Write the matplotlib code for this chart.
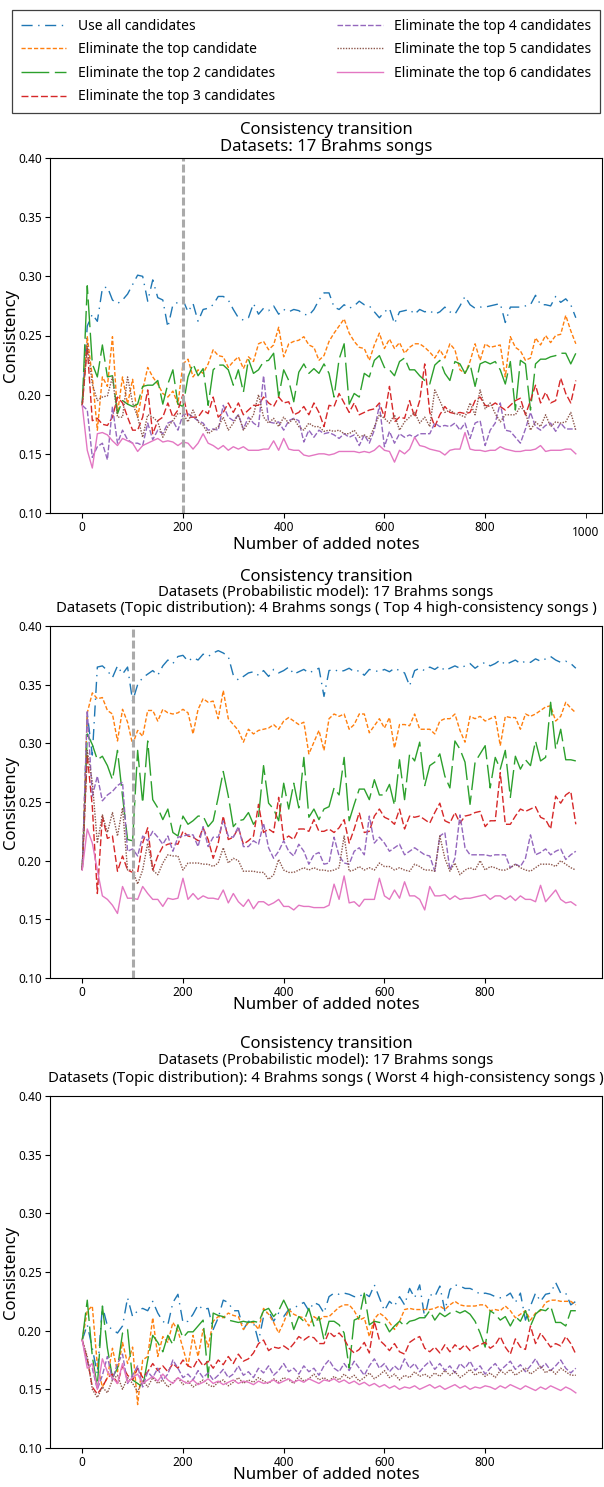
import numpy as np
import matplotlib.pyplot as plt

plt.rcParams['font.family'] = ['Noto Sans', 'DejaVu Sans']

# number of added notes (every 10 notes)
x = np.arange(0, 981, 10)

labels = ['Use all candidates', 'Eliminate the top candidate',
          'Eliminate the top 2 candidates', 'Eliminate the top 3 candidates',
          'Eliminate the top 4 candidates', 'Eliminate the top 5 candidates',
          'Eliminate the top 6 candidates']
colors = ['#1f77b4', '#ff7f0e', '#2ca02c', '#d62728', '#9467bd', '#8c564b', '#e377c2']
styles = [(0, (8, 4, 1, 4)), (0, (3, 1.5)), (0, (20, 4)), (0, (5, 2)),
          (0, (4, 1.5)), (0, (1, 1)), '-']

# ---- panel 1: 17 Brahms songs ----
p1_all = [0.193, 0.258, 0.268, 0.262, 0.290, 0.291, 0.280, 0.277, 0.280, 0.285,
          0.293, 0.301, 0.300, 0.279, 0.297, 0.282, 0.280, 0.257, 0.276, 0.278,
          0.280, 0.270, 0.277, 0.262, 0.272, 0.273, 0.276, 0.283, 0.283, 0.280,
          0.272, 0.265, 0.263, 0.265, 0.277, 0.268, 0.273, 0.271, 0.275, 0.268,
          0.272, 0.270, 0.272, 0.271, 0.268, 0.267, 0.272, 0.280, 0.286, 0.286,
          0.274, 0.272, 0.276, 0.273, 0.275, 0.279, 0.276, 0.275, 0.270, 0.265,
          0.270, 0.273, 0.260, 0.270, 0.271, 0.272, 0.268, 0.272, 0.270, 0.271,
          0.268, 0.270, 0.274, 0.270, 0.268, 0.275, 0.283, 0.276, 0.273, 0.274,
          0.274, 0.275, 0.276, 0.277, 0.261, 0.274, 0.274, 0.274, 0.275, 0.276,
          0.284, 0.276, 0.276, 0.275, 0.283, 0.278, 0.281, 0.276, 0.265]
p1_top1 = [0.191, 0.249, 0.215, 0.170, 0.215, 0.207, 0.249, 0.184, 0.215, 0.192,
           0.213, 0.181, 0.204, 0.223, 0.215, 0.209, 0.201, 0.198, 0.203, 0.192,
           0.226, 0.230, 0.215, 0.221, 0.218, 0.226, 0.238, 0.233, 0.232, 0.223,
           0.228, 0.232, 0.222, 0.232, 0.228, 0.243, 0.245, 0.238, 0.242, 0.257,
           0.232, 0.243, 0.245, 0.246, 0.249, 0.242, 0.240, 0.229, 0.233, 0.245,
           0.252, 0.258, 0.264, 0.252, 0.245, 0.240, 0.239, 0.229, 0.242, 0.252,
           0.239, 0.247, 0.239, 0.244, 0.235, 0.240, 0.243, 0.243, 0.240, 0.236,
           0.231, 0.238, 0.231, 0.243, 0.238, 0.221, 0.218, 0.228, 0.243, 0.229,
           0.243, 0.240, 0.241, 0.242, 0.215, 0.249, 0.240, 0.237, 0.229, 0.231,
           0.248, 0.242, 0.250, 0.244, 0.250, 0.251, 0.267, 0.254, 0.243]
p1_top2 = [0.191, 0.292, 0.226, 0.215, 0.242, 0.215, 0.216, 0.184, 0.195, 0.192,
           0.190, 0.192, 0.207, 0.208, 0.208, 0.212, 0.192, 0.209, 0.221, 0.192,
           0.190, 0.215, 0.226, 0.216, 0.222, 0.191, 0.221, 0.225, 0.225, 0.221,
           0.208, 0.221, 0.202, 0.230, 0.218, 0.221, 0.228, 0.229, 0.235, 0.198,
           0.221, 0.212, 0.194, 0.219, 0.226, 0.218, 0.222, 0.218, 0.226, 0.218,
           0.198, 0.230, 0.243, 0.192, 0.201, 0.198, 0.218, 0.215, 0.229, 0.233,
           0.223, 0.221, 0.216, 0.228, 0.231, 0.221, 0.221, 0.216, 0.212, 0.209,
           0.225, 0.229, 0.218, 0.212, 0.228, 0.226, 0.218, 0.226, 0.207, 0.226,
           0.228, 0.226, 0.228, 0.221, 0.209, 0.228, 0.187, 0.229, 0.226, 0.187,
           0.226, 0.230, 0.230, 0.232, 0.233, 0.235, 0.235, 0.226, 0.235]
p1_top3 = [0.191, 0.240, 0.178, 0.180, 0.175, 0.174, 0.181, 0.198, 0.193, 0.181,
           0.170, 0.170, 0.181, 0.204, 0.167, 0.178, 0.181, 0.193, 0.181, 0.187,
           0.200, 0.181, 0.181, 0.181, 0.187, 0.184, 0.198, 0.181, 0.185, 0.193,
           0.185, 0.193, 0.183, 0.187, 0.191, 0.191, 0.198, 0.193, 0.190, 0.198,
           0.193, 0.194, 0.183, 0.185, 0.190, 0.183, 0.193, 0.185, 0.173, 0.191,
           0.190, 0.201, 0.193, 0.185, 0.193, 0.183, 0.185, 0.187, 0.188, 0.193,
           0.181, 0.207, 0.177, 0.181, 0.180, 0.195, 0.181, 0.195, 0.226, 0.185,
           0.173, 0.183, 0.190, 0.185, 0.184, 0.185, 0.184, 0.185, 0.195, 0.198,
           0.191, 0.190, 0.193, 0.190, 0.187, 0.191, 0.195, 0.197, 0.183, 0.195,
           0.208, 0.193, 0.202, 0.193, 0.195, 0.214, 0.201, 0.193, 0.212]
p1_top4 = [0.191, 0.187, 0.147, 0.156, 0.159, 0.145, 0.190, 0.159, 0.170, 0.162,
           0.159, 0.159, 0.157, 0.176, 0.162, 0.170, 0.167, 0.176, 0.178, 0.170,
           0.183, 0.184, 0.181, 0.178, 0.176, 0.170, 0.171, 0.170, 0.191, 0.181,
           0.178, 0.183, 0.171, 0.181, 0.176, 0.173, 0.216, 0.177, 0.176, 0.177,
           0.170, 0.178, 0.180, 0.178, 0.160, 0.170, 0.164, 0.170, 0.167, 0.168,
           0.166, 0.163, 0.167, 0.164, 0.166, 0.157, 0.166, 0.159, 0.170, 0.191,
           0.156, 0.169, 0.159, 0.167, 0.164, 0.166, 0.164, 0.167, 0.167, 0.167,
           0.176, 0.173, 0.174, 0.173, 0.176, 0.170, 0.176, 0.163, 0.176, 0.178,
           0.157, 0.170, 0.176, 0.193, 0.170, 0.169, 0.164, 0.159, 0.171, 0.185,
           0.173, 0.170, 0.174, 0.176, 0.169, 0.176, 0.171, 0.171, 0.171]
p1_top5 = [0.191, 0.243, 0.209, 0.195, 0.198, 0.199, 0.215, 0.181, 0.181, 0.215,
           0.193, 0.181, 0.164, 0.183, 0.181, 0.177, 0.164, 0.173, 0.178, 0.184,
           0.184, 0.177, 0.187, 0.177, 0.174, 0.167, 0.170, 0.173, 0.181, 0.170,
           0.176, 0.183, 0.170, 0.176, 0.183, 0.200, 0.181, 0.176, 0.180, 0.173,
           0.181, 0.176, 0.180, 0.173, 0.170, 0.176, 0.173, 0.173, 0.169, 0.170,
           0.169, 0.170, 0.167, 0.167, 0.170, 0.164, 0.166, 0.163, 0.173, 0.183,
           0.180, 0.176, 0.183, 0.170, 0.177, 0.181, 0.185, 0.176, 0.181, 0.173,
           0.204, 0.195, 0.185, 0.187, 0.184, 0.183, 0.181, 0.193, 0.183, 0.204,
           0.188, 0.193, 0.184, 0.177, 0.183, 0.183, 0.183, 0.190, 0.185, 0.170,
           0.177, 0.173, 0.183, 0.173, 0.177, 0.176, 0.177, 0.185, 0.170]
p1_top6 = [0.191, 0.153, 0.138, 0.167, 0.168, 0.166, 0.161, 0.157, 0.163, 0.161,
           0.159, 0.152, 0.157, 0.159, 0.161, 0.163, 0.160, 0.161, 0.160, 0.157,
           0.160, 0.159, 0.154, 0.159, 0.167, 0.159, 0.157, 0.154, 0.157, 0.153,
           0.156, 0.154, 0.156, 0.153, 0.153, 0.153, 0.154, 0.154, 0.161, 0.153,
           0.163, 0.154, 0.153, 0.153, 0.149, 0.148, 0.149, 0.150, 0.150, 0.149,
           0.150, 0.152, 0.152, 0.152, 0.152, 0.151, 0.152, 0.151, 0.153, 0.157,
           0.153, 0.152, 0.143, 0.153, 0.150, 0.154, 0.164, 0.157, 0.156, 0.154,
           0.153, 0.152, 0.149, 0.153, 0.154, 0.154, 0.168, 0.154, 0.153, 0.153,
           0.152, 0.153, 0.153, 0.156, 0.154, 0.153, 0.152, 0.152, 0.153, 0.153,
           0.154, 0.157, 0.152, 0.153, 0.153, 0.153, 0.154, 0.154, 0.150]

# ---- panel 2: topic distribution from top 4 high-consistency songs ----
p2_all = [0.192, 0.325, 0.290, 0.365, 0.366, 0.362, 0.356, 0.366, 0.359, 0.365,
          0.336, 0.350, 0.356, 0.359, 0.362, 0.358, 0.366, 0.371, 0.368, 0.374,
          0.375, 0.370, 0.373, 0.371, 0.376, 0.374, 0.377, 0.379, 0.377, 0.374,
          0.358, 0.354, 0.357, 0.360, 0.361, 0.358, 0.362, 0.357, 0.363, 0.360,
          0.362, 0.365, 0.359, 0.361, 0.363, 0.360, 0.362, 0.364, 0.340, 0.362,
          0.363, 0.361, 0.362, 0.364, 0.361, 0.362, 0.358, 0.363, 0.362, 0.361,
          0.363, 0.361, 0.364, 0.362, 0.360, 0.349, 0.362, 0.364, 0.362, 0.365,
          0.363, 0.366, 0.362, 0.364, 0.366, 0.364, 0.366, 0.368, 0.364, 0.367,
          0.369, 0.366, 0.368, 0.371, 0.367, 0.369, 0.371, 0.368, 0.370, 0.369,
          0.372, 0.370, 0.372, 0.374, 0.371, 0.369, 0.370, 0.368, 0.364]
p2_top1 = [0.192, 0.326, 0.343, 0.338, 0.339, 0.328, 0.325, 0.302, 0.329, 0.318,
           0.299, 0.311, 0.306, 0.328, 0.328, 0.319, 0.329, 0.326, 0.325, 0.326,
           0.329, 0.326, 0.308, 0.329, 0.338, 0.335, 0.336, 0.321, 0.345, 0.321,
           0.316, 0.311, 0.301, 0.312, 0.308, 0.311, 0.312, 0.313, 0.316, 0.312,
           0.319, 0.322, 0.319, 0.316, 0.318, 0.291, 0.301, 0.311, 0.294, 0.321,
           0.325, 0.323, 0.325, 0.312, 0.316, 0.325, 0.325, 0.309, 0.315, 0.321,
           0.313, 0.322, 0.296, 0.316, 0.316, 0.315, 0.325, 0.312, 0.312, 0.312,
           0.308, 0.319, 0.321, 0.321, 0.325, 0.311, 0.301, 0.323, 0.321, 0.323,
           0.319, 0.321, 0.323, 0.298, 0.323, 0.322, 0.322, 0.312, 0.325, 0.323,
           0.325, 0.328, 0.331, 0.332, 0.319, 0.323, 0.335, 0.330, 0.326]
p2_top2 = [0.192, 0.308, 0.299, 0.286, 0.289, 0.281, 0.269, 0.294, 0.255, 0.218,
           0.217, 0.294, 0.249, 0.302, 0.252, 0.245, 0.235, 0.244, 0.224, 0.221,
           0.238, 0.231, 0.234, 0.238, 0.238, 0.229, 0.234, 0.254, 0.276, 0.255,
           0.229, 0.234, 0.235, 0.241, 0.231, 0.237, 0.281, 0.249, 0.244, 0.234,
           0.266, 0.244, 0.266, 0.245, 0.288, 0.237, 0.244, 0.235, 0.244, 0.246,
           0.262, 0.256, 0.288, 0.234, 0.248, 0.261, 0.261, 0.252, 0.269, 0.256,
           0.256, 0.265, 0.247, 0.286, 0.252, 0.291, 0.285, 0.301, 0.264, 0.281,
           0.284, 0.291, 0.272, 0.262, 0.302, 0.295, 0.284, 0.248, 0.284, 0.291,
           0.298, 0.262, 0.288, 0.278, 0.294, 0.254, 0.289, 0.278, 0.286, 0.281,
           0.302, 0.285, 0.288, 0.335, 0.295, 0.312, 0.286, 0.286, 0.285]
p2_top3 = [0.192, 0.290, 0.246, 0.172, 0.238, 0.219, 0.221, 0.191, 0.204, 0.192,
           0.190, 0.190, 0.215, 0.228, 0.192, 0.204, 0.212, 0.214, 0.215, 0.214,
           0.225, 0.221, 0.220, 0.217, 0.228, 0.218, 0.202, 0.215, 0.238, 0.218,
           0.220, 0.228, 0.214, 0.217, 0.221, 0.248, 0.224, 0.227, 0.224, 0.254,
           0.218, 0.221, 0.218, 0.227, 0.227, 0.225, 0.235, 0.225, 0.225, 0.227,
           0.224, 0.228, 0.235, 0.215, 0.227, 0.241, 0.224, 0.225, 0.238, 0.244,
           0.237, 0.235, 0.231, 0.244, 0.227, 0.238, 0.237, 0.238, 0.235, 0.232,
           0.241, 0.249, 0.234, 0.232, 0.241, 0.232, 0.238, 0.239, 0.241, 0.242,
           0.229, 0.234, 0.234, 0.275, 0.231, 0.231, 0.238, 0.244, 0.242, 0.244,
           0.246, 0.237, 0.235, 0.227, 0.255, 0.249, 0.256, 0.259, 0.231]
p2_top4 = [0.192, 0.328, 0.255, 0.272, 0.251, 0.256, 0.259, 0.264, 0.267, 0.208,
           0.210, 0.204, 0.221, 0.217, 0.225, 0.220, 0.214, 0.221, 0.208, 0.220,
           0.221, 0.222, 0.222, 0.212, 0.229, 0.212, 0.220, 0.220, 0.234, 0.221,
           0.220, 0.229, 0.212, 0.212, 0.217, 0.214, 0.232, 0.211, 0.202, 0.208,
           0.217, 0.208, 0.204, 0.214, 0.208, 0.197, 0.205, 0.207, 0.197, 0.198,
           0.220, 0.204, 0.198, 0.197, 0.208, 0.211, 0.205, 0.238, 0.215, 0.220,
           0.215, 0.208, 0.211, 0.214, 0.205, 0.208, 0.211, 0.208, 0.205, 0.204,
           0.191, 0.221, 0.224, 0.192, 0.202, 0.239, 0.211, 0.205, 0.205, 0.205,
           0.205, 0.204, 0.205, 0.205, 0.205, 0.194, 0.197, 0.195, 0.202, 0.222,
           0.205, 0.207, 0.210, 0.205, 0.208, 0.210, 0.201, 0.205, 0.208]
p2_top5 = [0.192, 0.294, 0.267, 0.215, 0.239, 0.224, 0.241, 0.221, 0.245, 0.192,
           0.192, 0.180, 0.192, 0.215, 0.192, 0.188, 0.198, 0.205, 0.204, 0.204,
           0.192, 0.198, 0.198, 0.198, 0.197, 0.197, 0.195, 0.198, 0.211, 0.198,
           0.202, 0.200, 0.191, 0.191, 0.191, 0.190, 0.190, 0.184, 0.188, 0.201,
           0.192, 0.190, 0.190, 0.192, 0.194, 0.192, 0.194, 0.192, 0.192, 0.191,
           0.192, 0.194, 0.221, 0.191, 0.192, 0.195, 0.192, 0.194, 0.192, 0.198,
           0.195, 0.195, 0.192, 0.194, 0.192, 0.191, 0.197, 0.195, 0.192, 0.192,
           0.191, 0.221, 0.202, 0.191, 0.198, 0.188, 0.192, 0.194, 0.192, 0.200,
           0.192, 0.195, 0.194, 0.192, 0.192, 0.194, 0.197, 0.194, 0.192, 0.191,
           0.194, 0.197, 0.197, 0.197, 0.195, 0.200, 0.197, 0.194, 0.192]
p2_top6 = [0.192, 0.227, 0.215, 0.192, 0.170, 0.167, 0.162, 0.155, 0.178, 0.168,
           0.168, 0.167, 0.178, 0.172, 0.167, 0.167, 0.161, 0.168, 0.167, 0.168,
           0.185, 0.167, 0.172, 0.167, 0.170, 0.168, 0.168, 0.167, 0.175, 0.164,
           0.172, 0.165, 0.161, 0.167, 0.159, 0.165, 0.165, 0.162, 0.164, 0.167,
           0.161, 0.161, 0.158, 0.162, 0.161, 0.161, 0.160, 0.160, 0.160, 0.162,
           0.180, 0.167, 0.187, 0.164, 0.165, 0.161, 0.167, 0.167, 0.167, 0.185,
           0.170, 0.167, 0.175, 0.168, 0.182, 0.170, 0.170, 0.167, 0.158, 0.178,
           0.170, 0.170, 0.171, 0.167, 0.170, 0.167, 0.168, 0.168, 0.169, 0.170,
           0.171, 0.167, 0.170, 0.170, 0.167, 0.170, 0.166, 0.170, 0.167, 0.167,
           0.165, 0.179, 0.165, 0.170, 0.175, 0.167, 0.164, 0.165, 0.162]

# ---- panel 3: topic distribution from worst 4 songs ----
p3_all = [0.192, 0.205, 0.185, 0.163, 0.221, 0.204, 0.201, 0.198, 0.204, 0.228,
          0.212, 0.217, 0.219, 0.217, 0.225, 0.215, 0.208, 0.205, 0.224, 0.231,
          0.207, 0.208, 0.214, 0.222, 0.218, 0.219, 0.201, 0.211, 0.226, 0.224,
          0.217, 0.217, 0.201, 0.208, 0.207, 0.191, 0.212, 0.217, 0.208, 0.215,
          0.212, 0.218, 0.219, 0.222, 0.224, 0.217, 0.224, 0.222, 0.215, 0.229,
          0.232, 0.231, 0.232, 0.231, 0.229, 0.229, 0.232, 0.229, 0.239, 0.228,
          0.217, 0.225, 0.221, 0.229, 0.222, 0.236, 0.228, 0.239, 0.211, 0.231,
          0.229, 0.238, 0.217, 0.235, 0.239, 0.238, 0.236, 0.236, 0.234, 0.231,
          0.232, 0.231, 0.229, 0.228, 0.229, 0.232, 0.224, 0.232, 0.209, 0.221,
          0.232, 0.225, 0.231, 0.232, 0.241, 0.232, 0.232, 0.222, 0.225]
p3_top1 = [0.192, 0.217, 0.221, 0.170, 0.152, 0.160, 0.185, 0.165, 0.190, 0.172,
           0.186, 0.137, 0.175, 0.178, 0.211, 0.178, 0.195, 0.190, 0.207, 0.200,
           0.185, 0.170, 0.196, 0.178, 0.201, 0.186, 0.208, 0.212, 0.211, 0.215,
           0.213, 0.212, 0.201, 0.207, 0.207, 0.201, 0.219, 0.214, 0.207, 0.198,
           0.207, 0.218, 0.214, 0.212, 0.211, 0.204, 0.212, 0.209, 0.212, 0.212,
           0.216, 0.220, 0.222, 0.222, 0.217, 0.209, 0.211, 0.195, 0.210, 0.215,
           0.212, 0.207, 0.201, 0.208, 0.218, 0.219, 0.218, 0.218, 0.218, 0.218,
           0.219, 0.221, 0.218, 0.222, 0.225, 0.222, 0.221, 0.221, 0.221, 0.222,
           0.222, 0.217, 0.218, 0.217, 0.221, 0.217, 0.211, 0.214, 0.217, 0.209,
           0.215, 0.217, 0.224, 0.226, 0.226, 0.225, 0.225, 0.225, 0.222]
p3_top2 = [0.192, 0.226, 0.178, 0.152, 0.221, 0.185, 0.160, 0.168, 0.198, 0.201,
           0.158, 0.155, 0.152, 0.175, 0.196, 0.190, 0.182, 0.196, 0.188, 0.205,
           0.194, 0.199, 0.199, 0.204, 0.209, 0.160, 0.215, 0.213, 0.212, 0.209,
           0.208, 0.207, 0.208, 0.207, 0.208, 0.207, 0.217, 0.219, 0.212, 0.217,
           0.226, 0.217, 0.201, 0.212, 0.208, 0.219, 0.204, 0.212, 0.192, 0.208,
           0.208, 0.205, 0.198, 0.168, 0.209, 0.211, 0.232, 0.205, 0.208, 0.207,
           0.207, 0.199, 0.204, 0.208, 0.204, 0.208, 0.209, 0.211, 0.211, 0.217,
           0.209, 0.215, 0.212, 0.215, 0.217, 0.215, 0.217, 0.214, 0.208, 0.198,
           0.186, 0.217, 0.214, 0.209, 0.212, 0.204, 0.212, 0.208, 0.217, 0.204,
           0.214, 0.218, 0.217, 0.221, 0.207, 0.207, 0.204, 0.217, 0.217]
p3_top3 = [0.192, 0.176, 0.152, 0.146, 0.152, 0.160, 0.163, 0.155, 0.170, 0.162,
           0.158, 0.168, 0.160, 0.165, 0.172, 0.166, 0.170, 0.165, 0.172, 0.168,
           0.175, 0.170, 0.168, 0.176, 0.170, 0.174, 0.168, 0.175, 0.171, 0.178,
           0.172, 0.180, 0.174, 0.176, 0.181, 0.189, 0.192, 0.183, 0.186, 0.185,
           0.187, 0.184, 0.189, 0.195, 0.192, 0.195, 0.194, 0.189, 0.189, 0.199,
           0.195, 0.198, 0.193, 0.185, 0.181, 0.184, 0.190, 0.181, 0.208, 0.192,
           0.188, 0.183, 0.189, 0.182, 0.180, 0.190, 0.193, 0.195, 0.185, 0.182,
           0.186, 0.181, 0.188, 0.182, 0.188, 0.184, 0.188, 0.183, 0.186, 0.188,
           0.190, 0.185, 0.188, 0.195, 0.186, 0.180, 0.193, 0.186, 0.184, 0.204,
           0.189, 0.198, 0.192, 0.186, 0.189, 0.187, 0.195, 0.189, 0.180]
p3_top4 = [0.192, 0.172, 0.168, 0.150, 0.162, 0.178, 0.158, 0.172, 0.180, 0.155,
           0.162, 0.170, 0.152, 0.165, 0.160, 0.168, 0.158, 0.163, 0.175, 0.168,
           0.160, 0.163, 0.158, 0.166, 0.160, 0.164, 0.158, 0.162, 0.167, 0.160,
           0.163, 0.170, 0.162, 0.165, 0.160, 0.168, 0.164, 0.170, 0.162, 0.166,
           0.172, 0.165, 0.168, 0.163, 0.170, 0.165, 0.168, 0.162, 0.170, 0.175,
           0.168, 0.165, 0.172, 0.166, 0.174, 0.168, 0.162, 0.170, 0.176, 0.168,
           0.172, 0.165, 0.170, 0.166, 0.176, 0.168, 0.172, 0.165, 0.170, 0.174,
           0.167, 0.172, 0.166, 0.170, 0.164, 0.172, 0.168, 0.174, 0.166, 0.170,
           0.163, 0.168, 0.172, 0.166, 0.170, 0.174, 0.167, 0.171, 0.165, 0.170,
           0.176, 0.168, 0.172, 0.166, 0.170, 0.175, 0.168, 0.164, 0.168]
p3_top5 = [0.192, 0.178, 0.150, 0.143, 0.152, 0.147, 0.158, 0.162, 0.150, 0.160,
           0.155, 0.148, 0.158, 0.152, 0.160, 0.155, 0.158, 0.152, 0.156, 0.160,
           0.154, 0.157, 0.152, 0.155, 0.158, 0.154, 0.152, 0.156, 0.158, 0.153,
           0.156, 0.160, 0.155, 0.158, 0.156, 0.160, 0.157, 0.155, 0.159, 0.156,
           0.160, 0.158, 0.155, 0.161, 0.157, 0.159, 0.163, 0.158, 0.160, 0.157,
           0.161, 0.158, 0.163, 0.159, 0.162, 0.157, 0.160, 0.164, 0.159, 0.162,
           0.166, 0.160, 0.163, 0.158, 0.162, 0.160, 0.165, 0.161, 0.163, 0.160,
           0.164, 0.161, 0.166, 0.162, 0.165, 0.160, 0.163, 0.167, 0.162, 0.165,
           0.161, 0.164, 0.160, 0.166, 0.163, 0.167, 0.162, 0.165, 0.168, 0.163,
           0.166, 0.170, 0.164, 0.167, 0.163, 0.168, 0.165, 0.162, 0.162]
p3_top6 = [0.192, 0.168, 0.172, 0.150, 0.176, 0.165, 0.160, 0.155, 0.172, 0.156,
           0.160, 0.163, 0.155, 0.158, 0.161, 0.157, 0.163, 0.158, 0.155, 0.160,
           0.157, 0.155, 0.158, 0.154, 0.156, 0.159, 0.155, 0.157, 0.154, 0.156,
           0.158, 0.155, 0.157, 0.156, 0.154, 0.157, 0.155, 0.156, 0.158, 0.155,
           0.157, 0.159, 0.156, 0.158, 0.156, 0.159, 0.157, 0.155, 0.158, 0.157,
           0.159, 0.156, 0.158, 0.155, 0.157, 0.154, 0.156, 0.153, 0.155, 0.152,
           0.154, 0.151, 0.153, 0.150, 0.152, 0.151, 0.153, 0.150, 0.152, 0.154,
           0.151, 0.153, 0.150, 0.152, 0.154, 0.151, 0.153, 0.150, 0.152, 0.151,
           0.153, 0.152, 0.150, 0.153, 0.151, 0.154, 0.152, 0.150, 0.153, 0.151,
           0.149, 0.152, 0.150, 0.153, 0.151, 0.149, 0.152, 0.150, 0.147]

panel1 = [p1_all, p1_top1, p1_top2, p1_top3, p1_top4, p1_top5, p1_top6]
panel2 = [p2_all, p2_top1, p2_top2, p2_top3, p2_top4, p2_top5, p2_top6]
panel3 = [p3_all, p3_top1, p3_top2, p3_top3, p3_top4, p3_top5, p3_top6]

W, H = 604, 1487
fig = plt.figure(figsize=(W / 100, H / 100), dpi=100)


def px_axes(top, bottom, left=50, right=602):
    return fig.add_axes([left / W, 1 - bottom / H, (right - left) / W, (bottom - top) / H])


def draw(ax, series, vline=None):
    lines = []
    for vals, c, ls, lab in zip(series, colors, styles, labels):
        ln, = ax.plot(x, vals, color=c, linestyle=ls, lw=1.0, label=lab)
        lines.append(ln)
    if vline is not None:
        ax.axvline(vline, color='#aaaaaa', lw=2.2, linestyle=(0, (2.6, 1.0)))
    ax.set_xlim(-64, 1032)
    ax.set_ylim(0.10, 0.40)
    ax.set_xticks([0, 200, 400, 600, 800])
    ax.set_yticks(np.arange(0.10, 0.401, 0.05))
    ax.tick_params(labelsize=8.5, pad=2.5)
    ax.set_ylabel('Consistency', fontsize=12)
    ax.yaxis.set_label_coords(-0.056, 0.5)
    ax.set_xlabel('Number of added notes', fontsize=12, labelpad=-1.5)
    return lines


def title(lines_):
    for text, y, size in lines_:
        fig.text(326 / W, 1 - y / H, text, ha='center', va='center', fontsize=size)


ax1 = px_axes(158, 513)
handles = draw(ax1, panel1, vline=200)
ax1.set_xticks([1000], labels=['1000'], minor=True)
ax1.tick_params(axis='x', which='minor', length=3.5, pad=6, labelsize=8.5)
title([('Consistency transition', 130, 12), ('Datasets: 17 Brahms songs', 147, 12)])

ax2 = px_axes(626, 978)
draw(ax2, panel2, vline=100)
title([('Consistency transition', 577, 12),
       ('Datasets (Probabilistic model): 17 Brahms songs', 592, 10.7),
       ('Datasets (Topic distribution): 4 Brahms songs ( Top 4 high-consistency songs )', 608, 10.7)])

ax3 = px_axes(1096, 1448)
draw(ax3, panel3)
title([('Consistency transition', 1044, 12),
       ('Datasets (Probabilistic model): 17 Brahms songs', 1061, 10.7),
       ('Datasets (Topic distribution): 4 Brahms songs ( Worst 4 high-consistency songs )', 1079, 10.7)])

leg = fig.legend(handles, labels, loc='upper left', ncol=2, fontsize=10,
                 bbox_to_anchor=(12 / W, 0.90, 588 / W, 1 - 10 / H - 0.90),
                 mode='expand', borderaxespad=0, handlelength=3.3,
                 labelspacing=0.62, borderpad=0.62,
                 fancybox=False, edgecolor='0.25', framealpha=1)
leg.get_frame().set_linewidth(0.9)

fig.savefig('out.png', dpi=100)
